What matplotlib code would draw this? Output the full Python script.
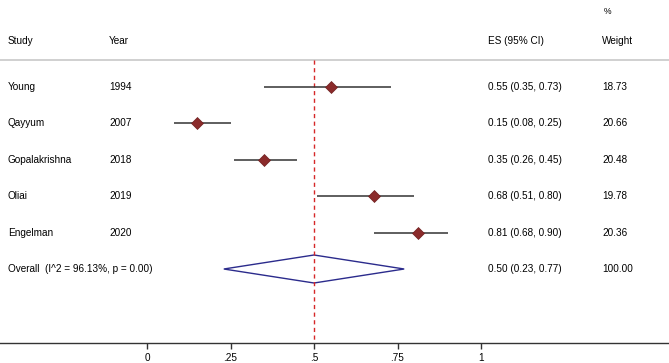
import matplotlib
matplotlib.use("Agg")
import matplotlib.pyplot as plt
from matplotlib.transforms import blended_transform_factory
from matplotlib.patches import Polygon

plt.rcParams['font.family'] = ['Liberation Sans', 'DejaVu Sans']

studies = ["Young", "Qayyum", "Gopalakrishna", "Oliai", "Engelman"]
years = ["1994", "2007", "2018", "2019", "2020"]
es = [0.55, 0.15, 0.35, 0.68, 0.81]
lo = [0.35, 0.08, 0.26, 0.51, 0.68]
hi = [0.73, 0.25, 0.45, 0.80, 0.90]
weights = ["18.73", "20.66", "20.48", "19.78", "20.36"]
overall_label = "Overall  (I^2 = 96.13%, p = 0.00)"
overall_es, overall_lo, overall_hi = 0.50, 0.23, 0.77
overall_weight = "100.00"
ticks = [0, 0.25, 0.5, 0.75, 1]
tick_labels = ["0", ".25", ".5", ".75", "1"]
null_line = 0.5

W, H = 669, 363
fig = plt.figure(figsize=(W / 100, H / 100), dpi=100)
ax_bottom = (H - 343) / H
ax = fig.add_axes([0, ax_bottom, 1, 1 - ax_bottom])

# x scale: 0 -> 147 px, 1 -> 481 px
px0, px1 = 147, 481
scale = px1 - px0
ax.set_xlim((0 - px0) / scale, (W - px0) / scale)

# rows: row 1 at y=87px, spacing 36.3px
row_h = 36.4
def rowy(px):
    return 1 + (px - 87) / row_h
ax.set_ylim(rowy(343), rowy(0))

fs = 7.2
tr = blended_transform_factory(ax.transAxes, ax.transData)
cols = [8 / W, 109 / W, 488 / W, 602 / W]

# header
hy = rowy(41)
for x, t in zip(cols, ["Study", "Year", "ES (95% CI)", "Weight"]):
    ax.text(x, hy, t, transform=tr, fontsize=fs, va="center", ha="left")
ax.text(cols[3] + 0.0025, rowy(12), "%", transform=tr, fontsize=fs - 1, va="center", ha="left")
ax.axhline(rowy(60), color="#c8c8c8", lw=1.2)

# null line
ax.vlines(null_line, rowy(60), rowy(343), colors="#d62728", linestyles=(0, (3, 2.5)), lw=1)

rows = list(range(1, len(studies) + 1))
for r, s, y, e, l, h, w in zip(rows, studies, years, es, lo, hi, weights):
    ax.plot([l, h], [r, r], color="#333333", lw=1.1, solid_capstyle="butt")
    ax.plot([e], [r], marker="D", markersize=6.5, color="#8b2b2b", mec="#6e1f1f", mew=0.5)
    ax.text(cols[0], r, s, transform=tr, fontsize=fs, va="center")
    ax.text(cols[1], r, y, transform=tr, fontsize=fs, va="center")
    ax.text(cols[2], r, f"{e:.2f} ({l:.2f}, {h:.2f})", transform=tr, fontsize=fs, va="center")
    ax.text(cols[3], r, w, transform=tr, fontsize=fs, va="center")

ro = len(studies) + 1
dh = 14 / row_h
diamond = Polygon([[overall_lo, ro], [overall_es, ro - dh], [overall_hi, ro], [overall_es, ro + dh]],
                  closed=True, fill=False, edgecolor="#2b2b8c", lw=1)
ax.add_patch(diamond)
ax.text(cols[0], ro, overall_label, transform=tr, fontsize=fs, va="center")
ax.text(cols[2], ro, f"{overall_es:.2f} ({overall_lo:.2f}, {overall_hi:.2f})", transform=tr, fontsize=fs, va="center")
ax.text(cols[3], ro, overall_weight, transform=tr, fontsize=fs, va="center")

for sp in ["top", "left", "right"]:
    ax.spines[sp].set_visible(False)
ax.spines["bottom"].set_color("#333333")
ax.spines["bottom"].set_linewidth(1)
ax.set_yticks([])
ax.set_xticks(ticks)
ax.set_xticklabels(tick_labels, fontsize=fs)
ax.tick_params(axis="x", direction="out", length=4, width=1, color="#333333", pad=3)

fig.savefig("out.png", dpi=100)
